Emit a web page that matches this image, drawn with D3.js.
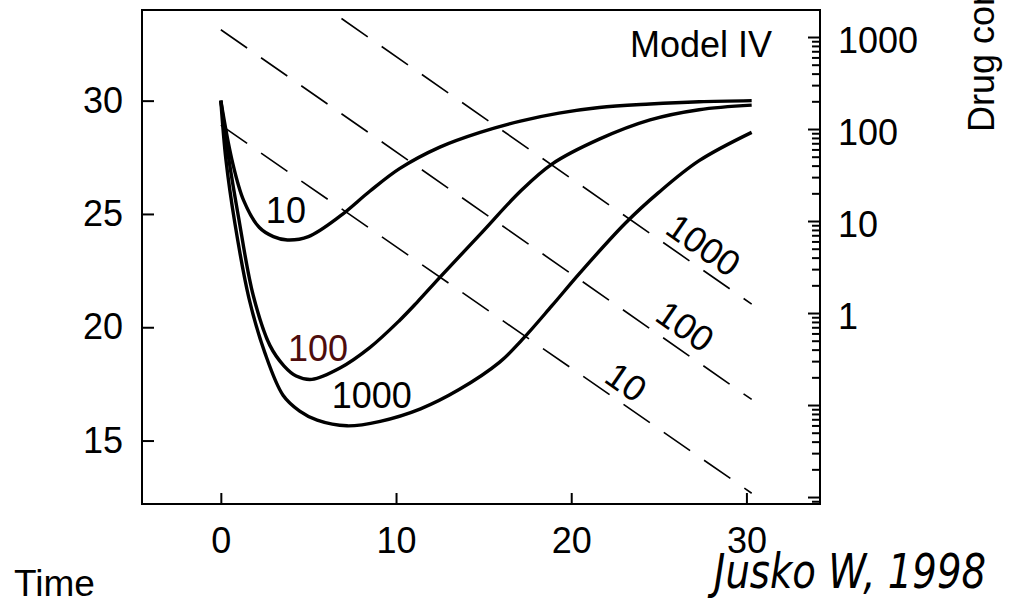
<!DOCTYPE html>
<html>
<head>
<meta charset="utf-8">
<script src="https://cdn.jsdelivr.net/npm/d3@7"></script>
<style>
    body { margin: 0; background: #fff; }
    svg { display: block; }
    .tick text { font-family: "Liberation Sans", Arial, sans-serif; font-size: 36px; fill: #000; }
    .tick line { stroke: #000; stroke-width: 2; }
</style>
</head>
<body>
<div id="chart"></div>
<script>
// axis ticks
const timeTicks = [0, 10, 20, 30];
const responseTicks = [15, 20, 25, 30];
const concTicks = [1, 10, 100, 1000];
const concUnlabeled = [0.01, 0.1];

// response curves, one per dose
const doseLabels = ['10', '100', '1000'];
const time10 = [0, 0.63, 1.3, 2.2, 3.0, 3.8, 5.0, 6.8, 8.5, 10.2, 12.5, 14.8, 17.1, 19.3, 21.6, 24.5, 27.3, 30.3];
const resp10 = [30, 27.4, 25.6, 24.4, 24.0, 23.85, 24.0, 24.9, 26.0, 27.0, 27.95, 28.6, 29.1, 29.45, 29.7, 29.85, 29.95, 30.0];
const time100 = [0, 0.46, 1.0, 1.85, 2.8, 3.6, 4.3, 5.2, 6.8, 8.5, 10.2, 11.2, 12.5, 14.8, 17.1, 18.9, 21.6, 24.5, 27.3, 30.3];
const resp100 = [30, 27.4, 24.9, 21.4, 19.2, 18.3, 17.85, 17.7, 18.2, 19.1, 20.3, 21.1, 22.2, 24.1, 26.0, 27.2, 28.3, 29.15, 29.6, 29.8];
const time1000 = [0, 0.29, 0.8, 1.6, 2.5, 3.55, 4.5, 5.5, 7.2, 9.1, 11.4, 13.6, 15.9, 17.2, 18.9, 20.5, 23.1, 25.0, 27.3, 30.3];
const resp1000 = [30, 27.4, 24.6, 21.3, 18.9, 17.0, 16.3, 15.9, 15.65, 15.85, 16.4, 17.25, 18.45, 19.45, 20.95, 22.4, 24.6, 25.95, 27.35, 28.6];

// drug concentration (log scale, straight lines)
const concTime = [0, 30.3];
const conc10 = [110, 0.011];
const conc100 = [1200, 0.115];
const conc1000 = [13000, 1.25];

const margin = { top: 10, left: 142 };
const width = 820 - 142;
const height = 504 - 10;
const font = '"Liberation Sans", Arial, sans-serif';

const svg = d3.select('#chart').append('svg')
    .attr('width', 1012)
    .attr('height', 604);

const g = svg.append('g')
    .attr('transform', `translate(${margin.left},${margin.top})`);

const x = d3.scaleLinear().domain([-4.5, 34.2]).range([0, width]);
const y = d3.scaleLinear().domain([12.2, 34]).range([height, 0]);
const yConc = d3.scaleLog().domain([0.0084, 1966]).range([height, 0]);

// clip so the dashed lines stop at the frame
svg.append('defs').append('clipPath').attr('id', 'plot-clip')
    .append('rect').attr('width', width).attr('height', height);

// axes - ticks point inward
g.append('g')
    .call(d3.axisLeft(y).tickValues(responseTicks).tickSizeInner(-12).tickSizeOuter(0).tickPadding(19))
    .call(a => a.select('.domain').remove());

g.append('g')
    .attr('transform', `translate(0,${height})`)
    .call(d3.axisBottom(x).tickValues(timeTicks).tickSizeInner(-11).tickSizeOuter(0).tickPadding(23))
    .call(a => a.select('.domain').remove());

// minor log ticks on the right
const minorTicks = yConc.ticks().filter(v => Math.abs(Math.log10(v) - Math.round(Math.log10(v))) > 1e-6);
g.append('g')
    .attr('transform', `translate(${width},0)`)
    .call(d3.axisRight(yConc).tickValues(minorTicks).tickSizeInner(-8).tickSizeOuter(0).tickFormat(''))
    .call(a => a.select('.domain').remove());

g.append('g')
    .attr('transform', `translate(${width},0)`)
    .call(d3.axisRight(yConc).tickValues(concUnlabeled).tickSizeInner(-12).tickSizeOuter(0).tickFormat(''))
    .call(a => a.select('.domain').remove());

g.append('g')
    .attr('transform', `translate(${width},0)`)
    .call(d3.axisRight(yConc).tickValues(concTicks).tickSizeInner(-12).tickSizeOuter(0).tickPadding(18).tickFormat(d3.format('d')))
    .call(a => a.select('.domain').remove())
    .call(a => a.selectAll('text').attr('dy', '0.42em'));

// frame
g.append('rect')
    .attr('width', width)
    .attr('height', height)
    .attr('fill', 'none')
    .attr('stroke', '#000')
    .attr('stroke-width', 2);

// dashed concentration lines
const concLine = d3.line()
    .x((d, i) => x(concTime[i]))
    .y(d => yConc(d));

g.append('g')
    .attr('clip-path', 'url(#plot-clip)')
    .selectAll('path')
    .data([conc10, conc100, conc1000])
    .join('path')
    .attr('d', concLine)
    .attr('fill', 'none')
    .attr('stroke', '#000')
    .attr('stroke-width', 1.6)
    .attr('stroke-dasharray', '32,17');

// response curves
const curves = [
    { t: time10, r: resp10 },
    { t: time100, r: resp100 },
    { t: time1000, r: resp1000 }
];
const respLine = d3.line()
    .x(d => x(d[0]))
    .y(d => y(d[1]))
    .curve(d3.curveCatmullRom.alpha(0.5));

g.append('g')
    .selectAll('path')
    .data(curves)
    .join('path')
    .attr('d', d => respLine(d.t.map((t, i) => [t, d.r[i]])))
    .attr('fill', 'none')
    .attr('stroke', '#000')
    .attr('stroke-width', 3.4)
    .attr('stroke-linejoin', 'round');

// labels on the response curves
const curveLabels = [
    { text: doseLabels[0], t: 2.57, r: 24.6, color: '#000' },
    { text: doseLabels[1], t: 3.83, r: 18.52, color: '#4d0d0d' },
    { text: doseLabels[2], t: 6.33, r: 16.45, color: '#000' }
];
g.selectAll('.curve-label')
    .data(curveLabels)
    .join('text')
    .attr('class', 'curve-label')
    .attr('x', d => x(d.t))
    .attr('y', d => y(d.r))
    .style('font-family', font)
    .style('font-size', '36px')
    .style('fill', d => d.color)
    .text(d => d.text);

// labels along the dashed lines, tilted with them
const slope = (yConc(conc10[1]) - yConc(conc10[0])) / (x(concTime[1]) - x(concTime[0]));
const angle = Math.atan(slope) * 180 / Math.PI;
const concLabels = [
    { text: doseLabels[2], t: 27.55, c: 5.48 },
    { text: doseLabels[1], t: 26.5, c: 0.72 },
    { text: doseLabels[0], t: 23.14, c: 0.178 }
];
g.selectAll('.conc-label')
    .data(concLabels)
    .join('text')
    .attr('class', 'conc-label')
    .attr('transform', d => `translate(${x(d.t)},${yConc(d.c)}) rotate(${angle})`)
    .attr('text-anchor', 'middle')
    .attr('dy', '0.35em')
    .style('font-family', font)
    .style('font-size', '36px')
    .style('fill', '#000')
    .text(d => d.text);

// titles and bits of text around the plot
svg.append('text')
    .attr('x', 772)
    .attr('y', 57)
    .attr('text-anchor', 'end')
    .style('font-family', font)
    .style('font-size', '36px')
    .text('Model IV');

svg.append('text')
    .attr('x', 14)
    .attr('y', 596)
    .style('font-family', font)
    .style('font-size', '37px')
    .text('Time');

svg.append('text')
    .attr('transform', 'translate(994,132) rotate(-90)')
    .style('font-family', font)
    .style('font-size', '36px')
    .text('Drug concentration');

// citation is a tall, squeezed italic
svg.append('text')
    .attr('x', 714)
    .attr('y', 588)
    .attr('textLength', 272)
    .attr('lengthAdjust', 'spacingAndGlyphs')
    .style('font-family', '"DejaVu Sans", Verdana, sans-serif')
    .style('font-style', 'italic')
    .style('font-size', '48px')
    .text('Jusko W, 1998');
</script>
</body>
</html>
